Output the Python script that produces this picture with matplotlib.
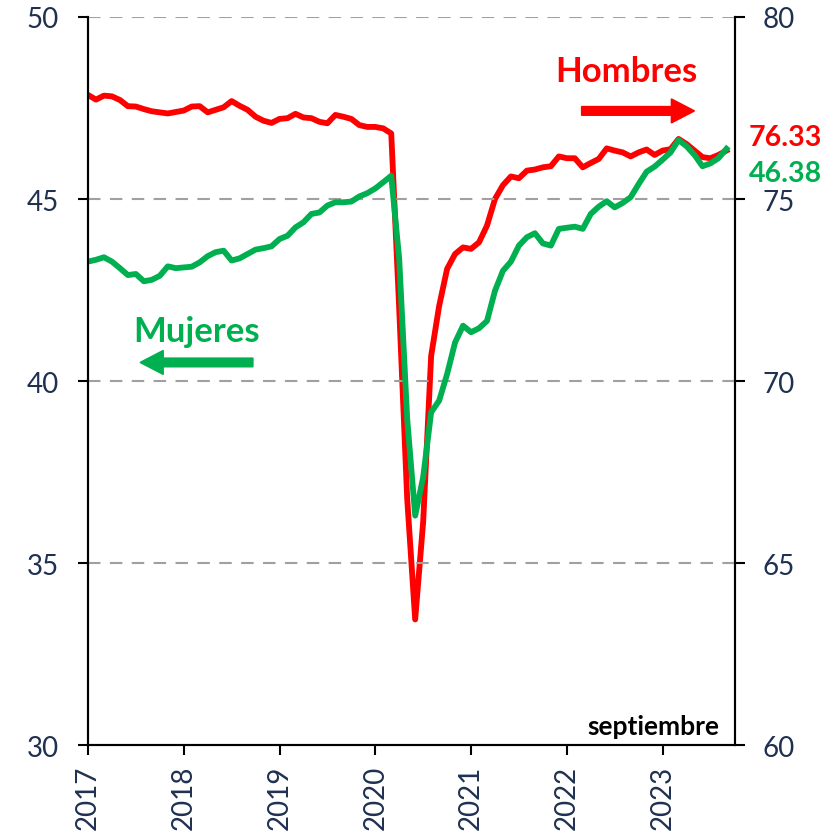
import numpy as np
import matplotlib.pyplot as plt
from matplotlib.patches import FancyArrow

plt.rcParams['font.family'] = ['Lato', 'DejaVu Sans']

# monthly series, Jan 2017 .. Sep 2023
years = ['2017', '2018', '2019', '2020', '2021', '2022', '2023']

# Hombres (right axis)
hombres = [77.86, 77.73, 77.84, 77.82, 77.72, 77.55, 77.54, 77.47, 77.41, 77.38,
           77.35, 77.39, 77.43, 77.54, 77.55, 77.38, 77.45, 77.52, 77.69, 77.56,
           77.45, 77.26, 77.15, 77.09, 77.20, 77.22, 77.34, 77.24, 77.22, 77.12,
           77.08, 77.31, 77.26, 77.20, 77.03, 76.98, 76.98, 76.94, 76.80, 71.98,
           66.76, 63.45, 66.13, 70.69, 72.06, 73.08, 73.49, 73.67, 73.63, 73.81,
           74.27, 75.00, 75.38, 75.62, 75.57, 75.78, 75.81, 75.87, 75.90, 76.17,
           76.12, 76.12, 75.87, 75.99, 76.10, 76.39, 76.33, 76.28, 76.17, 76.28,
           76.36, 76.21, 76.33, 76.37, 76.65, 76.51, 76.33, 76.15, 76.12, 76.21,
           76.33]

# Mujeres (left axis)
mujeres = [43.28, 43.33, 43.40, 43.28, 43.10, 42.91, 42.94, 42.74, 42.78, 42.89,
           43.15, 43.10, 43.12, 43.14, 43.26, 43.43, 43.54, 43.58, 43.31, 43.37,
           43.49, 43.61, 43.65, 43.70, 43.90, 43.99, 44.22, 44.36, 44.59, 44.63,
           44.82, 44.91, 44.91, 44.93, 45.07, 45.16, 45.29, 45.46, 45.64, 43.35,
           38.96, 36.30, 37.36, 39.14, 39.46, 40.19, 41.06, 41.52, 41.34, 41.45,
           41.65, 42.48, 43.03, 43.28, 43.72, 43.95, 44.06, 43.78, 43.72, 44.18,
           44.21, 44.24, 44.18, 44.59, 44.79, 44.94, 44.77, 44.89, 45.05, 45.41,
           45.75, 45.89, 46.08, 46.28, 46.62, 46.45, 46.21, 45.90, 45.98, 46.12,
           46.38]

red = '#FF0000'
green = '#00B050'
navy = '#1F3050'

x = np.arange(len(mujeres))

fig = plt.figure(figsize=(8.3, 8.37), dpi=100)
ax = fig.add_axes([0.106, 0.1087, 0.7795, 0.8698])
ax2 = ax.twinx()

# hombres on right axis, mujeres drawn on top
ax2.plot(x, hombres, color=red, lw=4.2, solid_joinstyle='round')
ax.plot(x, mujeres, color=green, lw=4.2, solid_joinstyle='round')
ax.set_zorder(ax2.get_zorder() + 1)
ax.patch.set_visible(False)

ax.set_xlim(0, 81.07)
ax.set_ylim(30, 50)
ax2.set_ylim(60, 80)
ax.set_yticks([30, 35, 40, 45, 50])
ax2.set_yticks([60, 65, 70, 75, 80])
ax.set_xticks(np.arange(len(years)) * 12)
ax.set_xticklabels(years, rotation=90)

for a in (ax, ax2):
    a.spines['top'].set_visible(False)
    for s in a.spines.values():
        s.set_linewidth(1.5)
    a.tick_params(axis='both', colors='black', labelcolor=navy, labelsize=20,
                  length=7, width=1.5, direction='out')
ax.tick_params(axis='y', pad=14)
ax2.tick_params(axis='y', pad=13)
ax.tick_params(axis='x', pad=7)

for v in [35, 40, 45, 50]:
    ax.axhline(v, color='#A0A0A0', lw=1.5, ls=(0, (6, 4.5)), zorder=0)

# annotations
ax.text(67.5, 48.24, 'Hombres', color=red, fontsize=25, fontweight='bold',
        ha='center', va='baseline')
ax.add_patch(FancyArrow(61.85, 47.42, 14.15, 0, width=0.24, head_width=0.66,
                        head_length=2.9, color=red, length_includes_head=True))
ax.text(13.6, 41.10, 'Mujeres', color=green, fontsize=25, fontweight='bold',
        ha='center', va='baseline')
ax.add_patch(FancyArrow(20.67, 40.51, -14.14, 0, width=0.24, head_width=0.66,
                        head_length=2.9, color=green, length_includes_head=True))

ax.text(79.1, 30.3, 'septiembre', color='black', fontsize=19,
        fontweight='bold', ha='right', va='baseline')

fig.text(0.990, 0.8256, f'{hombres[-1]:.2f}', color=red, fontsize=20.5,
         fontweight='bold', ha='right', va='baseline')
fig.text(0.990, 0.7826, f'{mujeres[-1]:.2f}', color=green, fontsize=20.5,
         fontweight='bold', ha='right', va='baseline')

fig.savefig('out.png', dpi=100)
